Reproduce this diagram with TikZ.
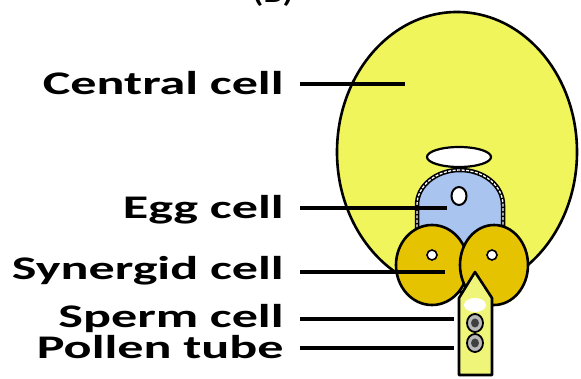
\documentclass[tikz,border=0pt]{standalone}
\usepackage{fontspec}
\setmainfont{Carlito}
\definecolor{centralY}{RGB}{240,245,92}
\definecolor{synGold}{RGB}{230,195,0}
\definecolor{eggBlue}{RGB}{170,196,240}
\definecolor{tubeY}{RGB}{238,245,120}
\begin{document}
\begin{tikzpicture}[x=1pt,y=-1pt,
  lbl/.style={font=\bfseries\fontsize{33}{36}\selectfont, anchor=base east,
              xscale=1.58, inner sep=0pt},
  leader/.style={line width=4pt},
  cellline/.style={line width=2.6pt, draw=black},
  nucleus/.style={fill=white, draw=black, line width=2pt},
  sperm/.style={fill=gray!55, draw=black, line width=1.8pt},
  eggwall/.style={insert path={(417,250) -- (417,205) arc[start angle=180, end angle=360, x radius=43, y radius=35] -- (503,250)}}]
\useasboundingbox (0,0) rectangle (581,379);
\fill[white] (0,0) rectangle (581,379);

% panel tag, mostly above the frame
\node[font=\bfseries\fontsize{26}{30}\selectfont, xscale=1.3, anchor=base, inner sep=0pt]
  (tag) at (273,3) {(B)};

% central cell
\draw[cellline, fill=centralY] (457,152) ellipse [x radius=120, y radius=140];
% vacuole above the egg cell
\draw[line width=2.2pt, fill=white] (459,157) ellipse [x radius=32, y radius=10];

% egg cell with double wall
\path[fill=eggBlue, eggwall] -- cycle;
\draw[line width=4.5pt, eggwall];
\draw[white, line width=1.3pt, dash pattern=on 3pt off 1.5pt, eggwall];
\draw[nucleus] (459,196) ellipse [x radius=7.5, y radius=9];
\coordinate (egg) at (447,208);

% synergids
\draw[cellline, fill=synGold] (432,265) ellipse [x radius=36, y radius=40];
\draw[cellline, fill=synGold] (494,265) ellipse [x radius=34, y radius=40];
\draw[nucleus, line width=1.6pt] (432,255) circle [radius=5];
\draw[nucleus, line width=1.6pt] (492,255) circle [radius=5];
\coordinate (syn) at (445,272);

% pollen tube with its sperm cells
\draw[cellline, fill=tubeY, line join=round] (475,272) -- (459,298) -- (459,375) -- (492,375) -- (492,298) -- cycle;
\fill[white] (475,305) ellipse [x radius=11, y radius=7];
\draw[sperm] (475,323) ellipse [x radius=8, y radius=9];
\fill[black!75] (475,323) ellipse [x radius=4, y radius=4.5];
\draw[sperm] (475,343) ellipse [x radius=8, y radius=9];
\fill[black!75] (475,343) ellipse [x radius=4, y radius=4.5];
\coordinate (sperm) at (454,319);
\coordinate (tube) at (454,348);
\coordinate (central) at (405,84);

% labels
\node[lbl] (l-central) at (284,95) {Central cell};
\node[lbl] (l-egg) at (284,219) {Egg cell};
\node[lbl] (l-syn) at (284,280) {Synergid cell};
\node[lbl] (l-sperm) at (284,327) {Sperm cell};
\node[lbl] (l-tube) at (284,358) {Pollen tube};

\coordinate (s-central) at (300,84);
\coordinate (s-egg) at (300,208);
\coordinate (s-syn) at (300,272);
\coordinate (s-sperm) at (300,319);
\coordinate (s-tube) at (300,348);

\draw[leader] (s-central) -- (central);
\draw[leader] (s-egg) -- (egg);
\draw[leader] (s-syn) -- (syn);
\draw[leader] (s-sperm) -- (sperm);
\draw[leader] (s-tube) -- (tube);
\end{tikzpicture}
\end{document}
